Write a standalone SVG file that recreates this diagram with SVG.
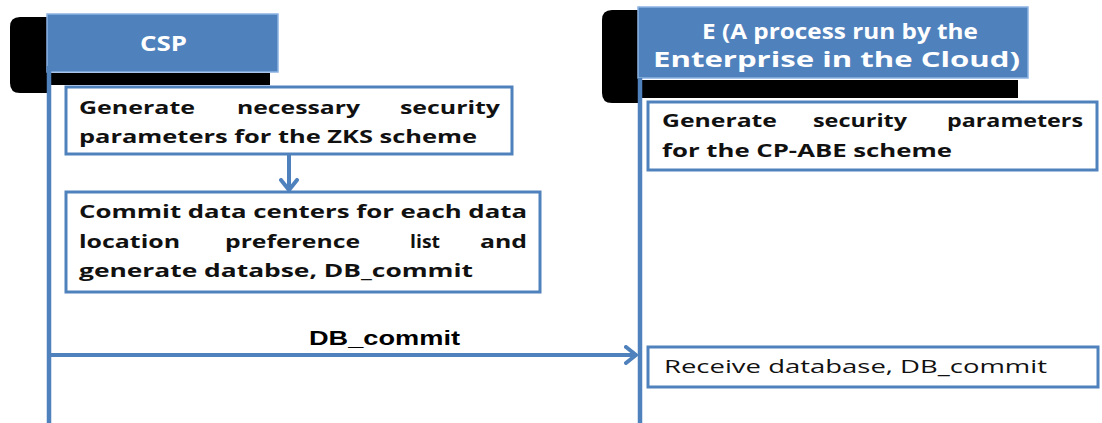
<svg xmlns="http://www.w3.org/2000/svg" width="1102" height="423" viewBox="0 0 1102 423">
<style>
.hdr{fill:#4F81BD;stroke:#8DB3E2;stroke-width:1.5}
.shadow{fill:#000}
.life{stroke:#4F81BD;stroke-width:4.5;fill:none}
.box{fill:#fff;stroke:#4F81BD;stroke-width:3}
.conn{stroke:#4F81BD;stroke-width:4;fill:none}
.t{font-family:"Open Sans","Liberation Sans",Arial,sans-serif;font-weight:bold;font-size:18px;fill:#111}
.tr{font-family:"Open Sans","Liberation Sans",Arial,sans-serif;font-size:19px;fill:#111}
.ht{font-family:"Open Sans","Liberation Sans",Arial,sans-serif;font-weight:bold;font-size:22px;fill:#fff}
.lbl{font-family:"Liberation Sans",Arial,sans-serif;font-weight:bold;font-size:20px;fill:#000}
</style>
<defs>
<marker id="chev" markerUnits="userSpaceOnUse" viewBox="0 0 14 20" markerWidth="14" markerHeight="20" refX="12" refY="10" orient="auto">
<path d="M2,2 L12,10 L2,18" fill="none" stroke="#4F81BD" stroke-width="4" stroke-linecap="round" stroke-linejoin="round"/>
</marker>
</defs>

<g id="csp">
<path class="shadow" d="M20,17 H48 V73 H270 V85 H48 V93 H20 Q10,93 10,83 V27 Q10,17 20,17 Z"/>
<rect class="hdr" x="47" y="14" width="231" height="58"/>
<text class="ht" x="163.5" y="51" text-anchor="middle" textLength="47" lengthAdjust="spacingAndGlyphs">CSP</text>
<line class="life" x1="49" y1="66" x2="49" y2="423"/>
</g>

<g id="e">
<path class="shadow" d="M612,10 H640 V80 H1018 V98 H640 V103 H612 Q602,103 602,93 V20 Q602,10 612,10 Z"/>
<rect class="hdr" x="638" y="7" width="390" height="71"/>
<text class="ht" x="702" y="39" textLength="276" lengthAdjust="spacingAndGlyphs">E (A process run by the</text>
<text class="ht" x="653" y="67" textLength="367" lengthAdjust="spacingAndGlyphs">Enterprise in the Cloud)</text>
<line class="life" x1="640" y1="78" x2="640" y2="423"/>
</g>

<g id="csp-step1">
<rect class="box" x="66" y="87" width="446" height="67"/>
<text class="t" x="79" y="114" textLength="116" lengthAdjust="spacingAndGlyphs">Generate</text>
<text class="t" x="237" y="114" textLength="123" lengthAdjust="spacingAndGlyphs">necessary</text>
<text class="t" x="400" y="114" textLength="100" lengthAdjust="spacingAndGlyphs">security</text>
<text class="t" x="79" y="143" textLength="398" lengthAdjust="spacingAndGlyphs">parameters for the ZKS scheme</text>
</g>

<g id="csp-step2">
<rect class="box" x="66" y="192" width="474" height="100"/>
<text class="t" x="79" y="218" textLength="448" lengthAdjust="spacingAndGlyphs">Commit data centers for  each data</text>
<text class="t" x="79" y="248" textLength="101" lengthAdjust="spacingAndGlyphs">location</text>
<text class="t" x="225" y="248" textLength="135" lengthAdjust="spacingAndGlyphs">preference</text>
<text class="t" x="410" y="248" textLength="30" lengthAdjust="spacingAndGlyphs">list</text>
<text class="t" x="480" y="248" textLength="47" lengthAdjust="spacingAndGlyphs">and</text>
<text class="t" x="79" y="277" textLength="394" lengthAdjust="spacingAndGlyphs">generate  databse, DB_commit</text>
</g>

<g id="e-step1">
<rect class="box" x="648" y="102" width="449" height="68"/>
<text class="t" x="662" y="127" textLength="115" lengthAdjust="spacingAndGlyphs">Generate</text>
<text class="t" x="813" y="127" textLength="94" lengthAdjust="spacingAndGlyphs">security</text>
<text class="t" x="947" y="127" textLength="136" lengthAdjust="spacingAndGlyphs">parameters</text>
<text class="t" x="662" y="157" textLength="290" lengthAdjust="spacingAndGlyphs">for the CP-ABE scheme</text>
</g>

<g id="e-step2">
<rect class="box" x="648" y="347" width="450" height="40"/>
<text class="tr" x="664" y="373" textLength="383" lengthAdjust="spacingAndGlyphs">Receive database, DB_commit</text>
</g>

<g id="connectors">
<line class="conn" x1="289" y1="155" x2="289" y2="190" marker-end="url(#chev)"/>
<line class="conn" x1="49" y1="355" x2="636" y2="355" marker-end="url(#chev)"/>
<text class="lbl" x="309" y="345" textLength="151" lengthAdjust="spacingAndGlyphs">DB_commit</text>
</g>
</svg>
